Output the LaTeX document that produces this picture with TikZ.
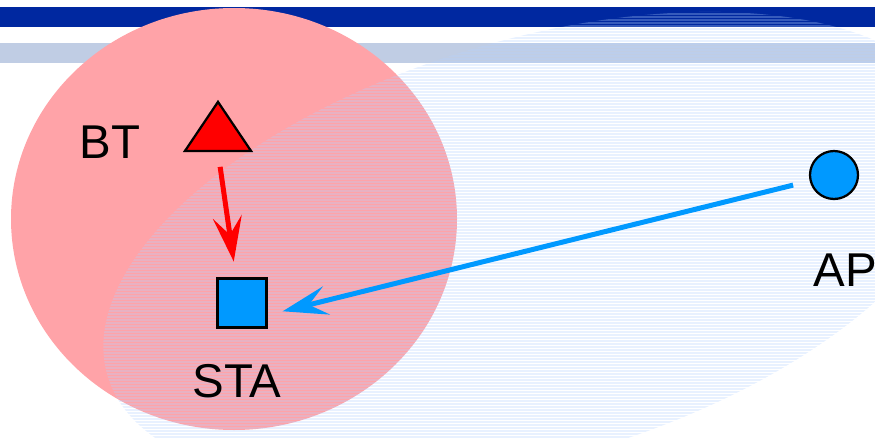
\documentclass[tikz,border=0pt]{standalone}
\usepackage{fontspec}
\setmainfont{Liberation Sans}
\usetikzlibrary{positioning, arrows.meta, shapes.geometric}

\definecolor{barblue}{RGB}{0,40,160}
\definecolor{barlight}{RGB}{192,205,228}
\definecolor{btpink}{RGB}{255,163,168}
\definecolor{wlanblue}{RGB}{0,153,255}
\definecolor{wlantint}{RGB}{180,210,255}

\begin{document}
\begin{tikzpicture}[x=0.02cm, y=0.02cm,
		tag/.style={font=\fontsize{27}{30}\selectfont, inner sep=0pt},
		dev/.style={draw=black, line width=0.045cm, inner sep=0pt},
		link/.style={line width=0.1cm, -{Stealth[length=0.9cm, width=0.58cm, inset=0.36cm]}}]
		
		\useasboundingbox (0,0) rectangle (875,437);
		\clip (0,0) rectangle (875,437);
		
		%Header bars
		\fill[barblue] (0,410) rectangle (875,430);
		\fill[barlight] (0,374) rectangle (875,394);
		
		%Coverage areas
		\fill[btpink] (234,218) ellipse [x radius=223, y radius=211];
		\begin{scope}
			\clip[rotate around={16.6:(533,188)}] (533,188) ellipse [x radius=444, y radius=209];
			\foreach \y in {0,3,...,438}
			\draw[wlantint, opacity=0.3, line width=0.04cm] (0,\y) -- (875,\y);
		\end{scope}
		
		%Devices
		\node[dev, fill=red, isosceles triangle, isosceles triangle stretches, shape border rotate=90,
		minimum width=1.32cm, minimum height=0.98cm, anchor=lower side] (BT) at (218,285){};
		\node[dev, fill=wlanblue, rectangle, minimum size=0.98cm] (STA) at (242,134){};
		\node[dev, fill=wlanblue, circle, minimum size=0.96cm] (AP) at (834,262){};
		
		%Labels
		\node[tag] (BTname) at (110,295){BT};
		\node[tag] (STAname) at (237,56){STA};
		\node[tag, anchor=west] (APname) at (813,167){AP};
		
		%Links
		\draw[link, red, shorten <=0.3cm, shorten >=0.32cm] (BT.lower side) -- ([xshift=-0.12cm]STA.north);
		\draw[link, wlanblue, shorten <=0.34cm, shorten >=0.31cm] (AP) -- ([yshift=-0.24cm]STA.east);
		
\end{tikzpicture}
\end{document}
